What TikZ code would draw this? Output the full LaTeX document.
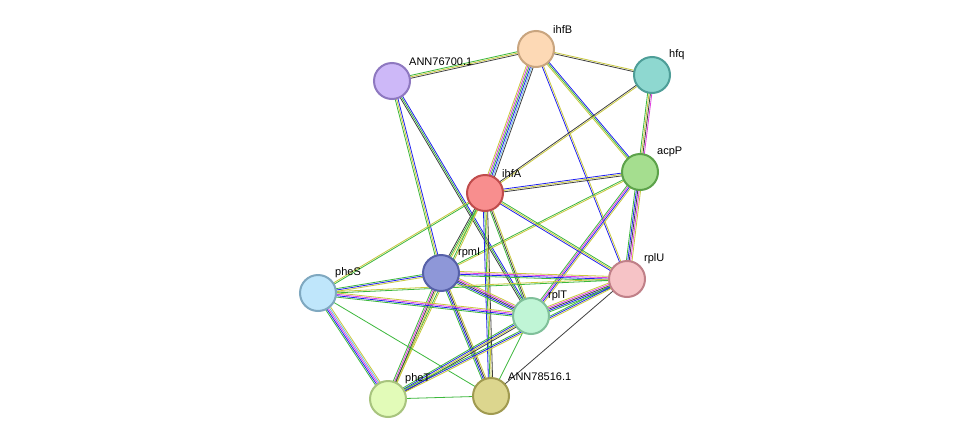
\documentclass[tikz,border=0pt]{standalone}
\usepackage{fontspec}
\setmainfont{Liberation Sans}
\usetikzlibrary{calc,backgrounds}
\definecolor{eg}{HTML}{3CB83C}\definecolor{eb}{HTML}{2020F0}\definecolor{ey}{HTML}{C8C83C}
\definecolor{ek}{HTML}{404040}\definecolor{em}{HTML}{E040E0}\definecolor{ec}{HTML}{70B8E8}
\newcommand\medge[3]{%
 \foreach \cc [count=\i] in {#3} {\xdef\nn{\i}}%
 \foreach \cc [count=\i] in {#3} {%
  \pgfmathsetmacro\off{(\i-(\nn+1)/2)*1.4}%
  \draw[\cc,line width=0.8pt] ($(#1)!\off pt!90:(#2)$) -- ($(#2)!\off pt!-90:(#1)$);}}
\tikzset{nd/.style={circle,minimum size=36pt,inner sep=0pt,line width=2pt},
 lb/.style={font=\fontsize{11pt}{13pt}\selectfont,inner sep=1pt,anchor=south west}}
\newcommand\nodec[5]{\definecolor{f#1}{HTML}{#4}\definecolor{d#1}{HTML}{#5}%
 \node[nd,fill=f#1,draw=d#1] (#1) at (#2) {};
 \node[lb] (l#1) at ($(#1)+(16,-14)$) {#3};}
\begin{document}
\begin{tikzpicture}[x=1pt,y=-1pt]
\useasboundingbox (0,0) rectangle (975,445);
\nodec{ihfB}{536,49}{ihfB}{FDD9B5}{C9A57F}
\nodec{hfq}{652,75}{hfq}{8ED8D0}{4E9E98}
\nodec{ann7}{392,81}{ANN76700.1}{CDB8F8}{8E78C0}
\nodec{acpP}{640,172}{acpP}{A5DE8F}{5CA24A}
\nodec{ihfA}{485,193}{ihfA}{F88E8E}{C04C4C}
\nodec{rpmI}{441,273}{rpmI}{8E97D8}{5660A8}
\nodec{rplU}{627,279}{rplU}{F6C3C6}{C08088}
\nodec{pheS}{318,293}{pheS}{BFE6FB}{7FA8C0}
\nodec{rplT}{531,316}{rplT}{C0F5D6}{80C09A}
\nodec{pheT}{388,399}{pheT}{E2FBB8}{A8C47E}
\nodec{ann8}{491,396}{ANN78516.1}{DCD68E}{A09A50}
\begin{pgfonlayer}{background}
\fill[white] (0,0) rectangle (975,445);
\medge{ihfB}{hfq}{ek,ey}
\medge{ihfB}{ann7}{eg,ey,ek}
\medge{ihfB}{ihfA}{ey,em,eg,eb,ec,ek}
\medge{ihfB}{acpP}{ey,eg,eb}
\medge{ihfB}{rplU}{eb,ey}
\medge{hfq}{ihfA}{ek,ey}
\medge{hfq}{acpP}{eg,ey,ek,em}
\medge{ann7}{rpmI}{eg,ey,eb}
\medge{ann7}{rplT}{ek,eg,eb}
\medge{acpP}{ihfA}{eb,ey,ek}
\medge{acpP}{rpmI}{eg,ey}
\medge{acpP}{rplU}{eg,eb,ek,em,ey}
\medge{acpP}{rplT}{eg,em,eb,ey}
\medge{ihfA}{rpmI}{ek,eg,ey}
\medge{ihfA}{pheS}{ey,eg}
\medge{ihfA}{rplU}{eb,ey,eg}
\medge{ihfA}{rplT}{eg,ek,ey}
\medge{ihfA}{pheT}{eg,ey}
\medge{ihfA}{ann8}{eb,eg,ey,ek}
\medge{rpmI}{rplU}{eg,eb,em,ey}
\medge{rpmI}{rplT}{eg,eb,ek,em,ey}
\medge{rpmI}{pheS}{eg,eb,ey}
\medge{rpmI}{pheT}{eg,em,ek,ey}
\medge{rpmI}{ann8}{eg,eb,ek,ey}
\medge{pheS}{rplT}{eg,eb,em,ey}
\medge{pheS}{rplU}{eg,ey}
\medge{pheS}{pheT}{eg,eb,em,ec,ey}
\medge{pheS}{ann8}{eg}
\medge{rplT}{rplU}{eg,eb,ek,em,ey}
\medge{rplT}{pheT}{eg,eb,ey,ek}
\medge{rplT}{ann8}{eg}
\medge{rplU}{pheT}{eg,eb,ey}
\medge{rplU}{ann8}{ek}
\medge{pheT}{ann8}{eg}
\end{pgfonlayer}
\end{tikzpicture}
\end{document}
